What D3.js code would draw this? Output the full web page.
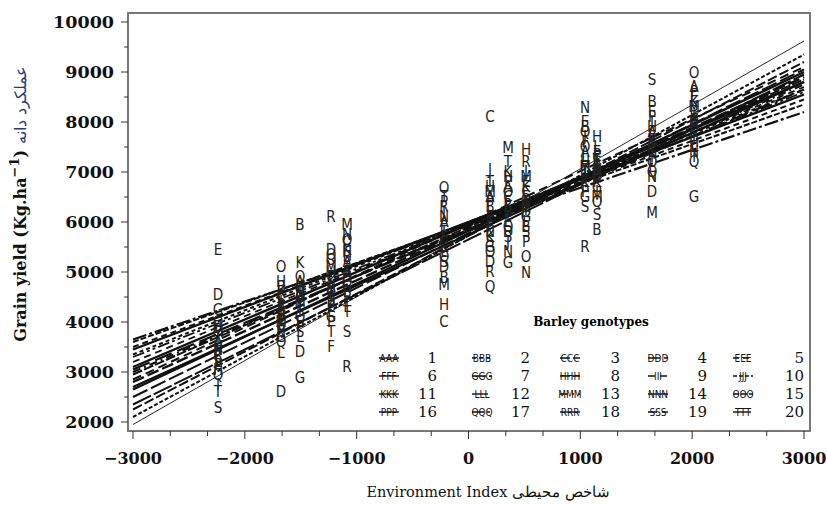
<!DOCTYPE html>
<html>
<head>
<meta charset="utf-8">
<script src="https://cdn.jsdelivr.net/npm/d3@7"></script>
<style>
  body { margin: 0; background: #fff; }
  svg { display: block; }
</style>
</head>
<body>
<svg class="canvas" width="827" height="505"></svg>
<script>
// genotype letters and legend numbers
var letters = ["A","B","C","D","E","F","G","H","I","J","K","L","M","N","O","P","Q","R","S","T"];
var genotypes = [1,2,3,4,5,6,7,8,9,10,11,12,13,14,15,16,17,18,19,20];

// environment index of each location (x of the letter columns)
var envIndex = [-2240, -1676, -1507, -1229, -1086, -219, 192, 353, 514, 1042, 1149, 1641, 2017];

// grain yield of genotypes A..T in each environment
var yieldByEnv = [
  [3600,3900,3300,4550,5440,3400,4250,3050,2750,3700,3500,3200,3800,3450,4000,3150,2950,3350,2280,2600],
  [4300,4700,4500,2600,3900,4100,3700,4800,4400,4200,4600,3380,4000,3800,5100,4350,3600,4150,3950,4050],
  [4800,5940,4500,3400,4000,4300,2880,4700,4200,4650,5180,3700,4400,4550,4900,3900,4100,4600,3800,4350],
  [4700,4400,4900,5450,4300,3500,4100,5000,4600,4500,4800,4200,5100,4650,5250,4000,5350,6100,4450,3800],
  [5200,5300,5600,4900,4600,5000,4700,5400,4400,5100,5450,4300,5940,5750,5650,4500,4800,3100,3800,4200],
  [6000,4880,4000,5100,5900,5700,5600,4340,5800,6200,5500,5400,4750,6100,6680,6400,5300,6300,5200,6500],
  [6500,6300,8100,5200,6100,5900,5500,6700,6000,7040,5700,6200,6600,5800,5400,6400,4700,5000,5600,6800],
  [6700,6200,6500,5800,6000,6400,5180,6900,6100,5600,7000,6300,7480,5400,6600,6800,5900,6350,5700,7200],
  [6400,5900,6600,6200,6800,6500,6100,7440,6300,7000,6700,6000,6900,4980,5300,5600,6450,7200,5800,6250],
  [7400,7900,6700,7000,8000,7600,6500,7200,6900,7700,6800,7300,7100,8280,7500,6600,7800,5500,6300,7050],
  [7000,5840,7300,6900,7400,7100,6700,7700,6600,7200,6800,7500,6500,7050,6950,7350,6400,7150,6140,7250],
  [7800,8400,7500,6600,8200,7700,7400,7900,7300,8000,7600,7100,6180,6900,7200,8100,7000,7650,8840,7550],
  [8700,8200,7800,8000,8500,7900,6500,7600,8100,7700,8400,7500,8300,7400,8980,8600,7200,7950,8050,7300]
];

// fitted regression lines: yield at EI = -3000 and EI = 3000
var fitLow  = [3100,3350,2250,2800,3500,2650,3650,2950,3200,2100,3450,2500,3000,2350,3600,2700,3300,1950,2850,3050];
var fitHigh = [8800,8650,9200,8900,8450,9000,8200,8850,8700,9350,8550,9050,8750,8950,8350,8800,8600,9620,9100,8650];

var xTicks = [-3000,-2000,-1000,0,1000,2000,3000];
var yTicks = [2000,3000,4000,5000,6000,7000,8000,9000,10000];

// line types, one per genotype
var dashes = ["", "4,3", "10,3", "12,4", "6,4", "", "14,3,3,3", "10,2", "7,5", "4,2",
              "", "16,4", "8,4,2,4", "20,3", "6,2", "", "12,3,3,3,3,3", "", "9,5", "18,6"];
var widths = [2.4,2,2,2.4,2,2.4,2.2,2,1.8,2,2.4,2,2.2,2,2,2.2,1.8,0.9,2,2.2];

var svg = d3.select(".canvas");
var serif = "'DejaVu Serif', 'Liberation Serif', serif";
var narrow = "'Liberation Sans Narrow', 'DejaVu Sans Condensed', sans-serif";

var x = d3.scaleLinear().domain([-3000, 3000]).range([133, 804]);
var y = d3.scaleLinear().domain([2000, 10000]).range([422, 22]);

var frame = {left: 128, right: 810, top: 13, bottom: 431};

// regression lines
svg.append("g")
  .selectAll("line")
  .data(genotypes)
  .enter()
  .append("line")
    .attr("x1", x(-3000))
    .attr("y1", function(d, i) { return y(fitLow[i]); })
    .attr("x2", x(3000))
    .attr("y2", function(d, i) { return y(fitHigh[i]); })
    .style("stroke", "#111")
    .style("stroke-width", function(d, i) { return widths[i]; })
    .style("stroke-dasharray", function(d, i) { return dashes[i]; });

// letter points
var pts = [];
envIndex.forEach(function(e, j) {
  yieldByEnv[j].forEach(function(v, i) {
    pts.push({x: e, y: v, letter: letters[i]});
  });
});

svg.append("g")
  .selectAll("text")
  .data(pts)
  .enter()
  .append("text")
    .attr("x", function(d) { return x(d.x); })
    .attr("y", function(d) { return y(d.y); })
    .attr("text-anchor", "middle")
    .attr("dominant-baseline", "central")
    .style("font-family", narrow)
    .style("font-size", "15px")
    .style("fill", "#222")
    .text(function(d) { return d.letter; });

// frame
svg.append("rect")
  .attr("x", frame.left)
  .attr("y", frame.top)
  .attr("width", frame.right - frame.left)
  .attr("height", frame.bottom - frame.top)
  .style("fill", "none")
  .style("stroke", "#777")
  .style("stroke-width", 2);

// y axis
var yAxis = svg.append("g");
yAxis.selectAll(".major")
  .data(yTicks)
  .enter()
  .append("line")
    .attr("x1", frame.left - 7)
    .attr("x2", frame.left)
    .attr("y1", function(d) { return y(d); })
    .attr("y2", function(d) { return y(d); })
    .style("stroke", "#333");
yAxis.selectAll(".minor")
  .data(yTicks.slice(0, -1))
  .enter()
  .append("line")
    .attr("x1", frame.left - 4)
    .attr("x2", frame.left)
    .attr("y1", function(d) { return y(d + 500); })
    .attr("y2", function(d) { return y(d + 500); })
    .style("stroke", "#333");
yAxis.selectAll("text")
  .data(yTicks)
  .enter()
  .append("text")
    .attr("x", frame.left - 14)
    .attr("y", function(d) { return y(d); })
    .attr("text-anchor", "end")
    .attr("dominant-baseline", "central")
    .style("font-family", serif)
    .style("font-size", "17.5px")
    .style("font-weight", "bold")
    .style("fill", "#111")
    .text(function(d) { return d; });

// x axis
var xAxis = svg.append("g");
var xMinor = [];
xTicks.slice(0, -1).forEach(function(t) { xMinor.push(t + 1000 / 3, t + 2000 / 3); });
xAxis.selectAll(".major")
  .data(xTicks)
  .enter()
  .append("line")
    .attr("x1", function(d) { return x(d); })
    .attr("x2", function(d) { return x(d); })
    .attr("y1", frame.bottom)
    .attr("y2", frame.bottom + 8)
    .style("stroke", "#333");
xAxis.selectAll(".minor")
  .data(xMinor)
  .enter()
  .append("line")
    .attr("x1", function(d) { return x(d); })
    .attr("x2", function(d) { return x(d); })
    .attr("y1", frame.bottom)
    .attr("y2", frame.bottom + 5)
    .style("stroke", "#333");
xAxis.selectAll("text")
  .data(xTicks)
  .enter()
  .append("text")
    .attr("x", function(d) { return x(d); })
    .attr("y", frame.bottom + 33)
    .attr("text-anchor", "middle")
    .style("font-family", serif)
    .style("font-size", "16px")
    .style("font-weight", "bold")
    .style("fill", "#111")
    .text(function(d) { return d < 0 ? "\u2212" + Math.abs(d) : d; });

// axis titles
svg.append("text")
  .attr("x", 488)
  .attr("y", 497)
  .attr("text-anchor", "middle")
  .style("font-family", serif)
  .style("font-size", "14.5px")
  .style("fill", "#111")
  .text("Environment Index \u0634\u0627\u062e\u0635 \u0645\u062d\u06cc\u0637\u06cc");

var yTitle = svg.append("text")
  .attr("transform", "translate(26,204) rotate(-90)")
  .attr("text-anchor", "middle")
  .style("font-family", serif)
  .style("font-size", "16px")
  .style("font-weight", "bold")
  .style("fill", "#111");
yTitle.append("tspan").text("Grain yield (Kg.ha");
yTitle.append("tspan").attr("dy", -7).style("font-size", "13px").text("\u22121");
yTitle.append("tspan").attr("dy", 7).text(") ");
yTitle.append("tspan").style("font-weight", "normal").style("fill", "#2a3a7a")
  .text("\u0639\u0645\u0644\u06a9\u0631\u062f \u062f\u0627\u0646\u0647");

// legend
var legend = svg.append("g");
legend.append("text")
  .attr("x", 591)
  .attr("y", 322)
  .attr("text-anchor", "middle")
  .attr("dominant-baseline", "central")
  .style("font-family", serif)
  .style("font-size", "12px")
  .style("font-weight", "bold")
  .text("Barley genotypes");

var symX = [389, 482, 570, 658, 743];
var numX = [437, 530, 620, 707, 804];
var rowY = [358, 376, 394, 412];

var items = legend.selectAll(".item")
  .data(genotypes)
  .enter()
  .append("g")
    .attr("transform", function(d, i) {
      return "translate(0," + rowY[Math.floor(i / 5)] + ")";
    });

items.append("line")
  .attr("x1", function(d, i) { return symX[i % 5] - 10; })
  .attr("x2", function(d, i) { return symX[i % 5] + 10; })
  .style("stroke", "#111")
  .style("stroke-width", 1.4)
  .style("stroke-dasharray", function(d, i) { return dashes[i]; });

items.append("text")
  .attr("x", function(d, i) { return symX[i % 5]; })
  .attr("text-anchor", "middle")
  .attr("dominant-baseline", "central")
  .style("font-family", narrow)
  .style("font-size", "10px")
  .style("fill", "#111")
  .text(function(d, i) { return letters[i] + letters[i] + letters[i]; });

items.append("text")
  .attr("x", function(d, i) { return numX[i % 5]; })
  .attr("text-anchor", "end")
  .attr("dominant-baseline", "central")
  .style("font-family", serif)
  .style("font-size", "15px")
  .style("fill", "#111")
  .text(function(d) { return d; });
</script>
</body>
</html>
